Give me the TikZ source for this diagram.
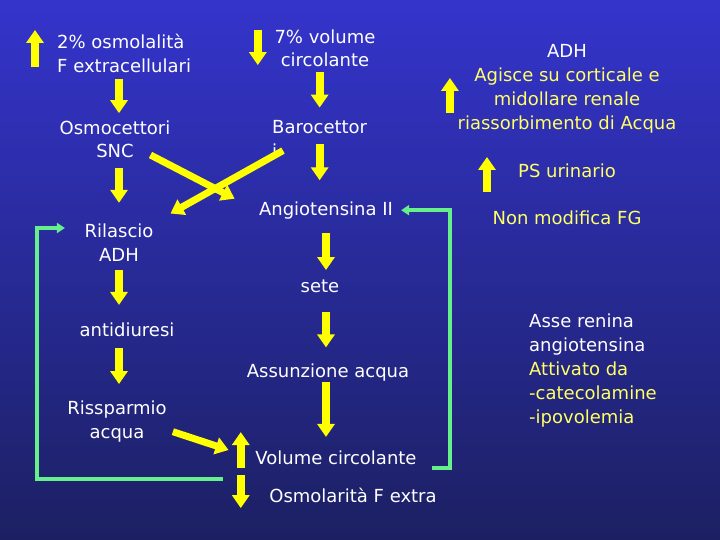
\documentclass[tikz,border=0pt]{standalone}
\usepackage{fontspec}
\setmainfont{DejaVu Sans}
\usetikzlibrary{arrows.meta}
\definecolor{bgtop}{RGB}{52,52,204}
\definecolor{bgbot}{RGB}{28,32,98}
\definecolor{myel}{RGB}{255,255,0}
\definecolor{mtxt}{RGB}{255,255,102}
\definecolor{mgreen}{RGB}{102,240,140}
\tikzset{lbl/.style = {text=white, font=\fontsize{18}{23.5}\selectfont, align=center, inner sep=2pt}}
\tikzset{ylbl/.style = {lbl, text=mtxt}}
\tikzset{yarr/.style = {myel, line width=8pt, -{Triangle[width=17pt, length=13pt]}}}
\tikzset{garr/.style = {mgreen, line width=3.5pt, -{Triangle[width=10pt, length=8pt]}}}

\begin{document}
\begin{tikzpicture}[x=1pt, y=1pt]
  \useasboundingbox (0,0) rectangle (720,540);
  \shade [top color=bgtop, bottom color=bgbot] (0,0) rectangle (720,540);

  \node [lbl, align=left, anchor=west] (fext) at (55,486.5) {2\% osmolalità\\F extracellulari};
  \node [lbl] (vol) at (325,491.9) {7\% volume\\circolante};
  \node [ylbl, font=\fontsize{18}{24}\selectfont] (adh) at (567,451)
    {\textcolor{white}{ADH}\\Agisce su corticale e\\midollare renale\\riassorbimento di Acqua};
  \node [lbl] (osmo) at (115,400.9) {Osmocettori\\SNC};
  \node [lbl, align=left, anchor=west] (baro) at (270,400.9) {Barocettor\\i};
  \node [lbl] (angio) at (326,329.8) {Angiotensina II};
  \node [ylbl] (psur) at (567,369.5) {PS urinario};
  \node [ylbl] (nonmod) at (567,321.9) {Non modifica FG};
  \node [lbl] (ril) at (119,297.4) {Rilascio\\ADH};
  \node [lbl] (sete) at (320,253.3) {sete};
  \node [lbl] (antid) at (127,209.9) {antidiuresi};
  \node [lbl] (assun) at (328,167.7) {Assunzione acqua};
  \node [lbl] (riss) at (117,118.3) {Rissparmio\\acqua};
  \node [lbl] (volc) at (336,81.9) {Volume circolante};
  \node [lbl] (osmx) at (353,44.9) {Osmolarità F extra};
  \node [ylbl, align=left, anchor=west, font=\fontsize{18}{24}\selectfont] (asse) at (527,169.2)
    {\textcolor{white}{Asse renina}\\\textcolor{white}{angiotensina}\\Attivato da\\-catecolamine\\-ipovolemia};

  \draw [yarr] ([xshift=-20pt,yshift=-13.5pt]fext.west) -- ++(0,37);
  \draw [yarr] ([xshift=-14.5pt,yshift=18pt]vol.west) -- ++(0,-35);
  \draw [yarr] ([xshift=-5.5pt,yshift=-24pt]adh.west) -- ++(0,35);
  \draw [yarr] ([xshift=-29pt,yshift=-21.5pt]psur.west) -- ++(0,35);
  \draw [yarr] ([xshift=-12.5pt,yshift=-10pt]volc.west) -- ++(0,36);
  \draw [yarr] ([xshift=-12.5pt,yshift=-17pt]volc.west) -- ++(0,-33);

  \draw [yarr, shorten <=4pt, shorten >=5pt] (fext.south -| ril.south) -- (ril.south |- osmo.north);
  \draw [yarr, shorten <=8pt, shorten >=19pt] (osmo.south -| ril.south) -- (ril.north);
  \draw [yarr, shorten <=7pt, shorten >=16pt] (ril.south) -- (ril.south |- antid.north);
  \draw [yarr, shorten <=9pt, shorten >=15pt] (ril.south |- antid.south) -- (ril.south |- riss.north);

  \draw [yarr, shorten <=3pt, shorten >=11pt] (vol.south -| baro.north) -- (baro.north);
  \draw [yarr, shorten >=19pt] ([yshift=16pt]baro.south) -- (baro.south |- angio.north);
  \draw [yarr, shorten <=12pt, shorten >=8pt] (angio.south) -- (angio.south |- sete.north);
  \draw [yarr, shorten <=17pt, shorten >=14pt] (angio.south |- sete.south) -- (angio.south |- assun.north);
  \draw [yarr, shorten <=-1pt, shorten >=12pt] (angio.south |- assun.south) -- (angio.south |- volc.north);

  \draw [yarr, line width=7pt, shorten >=25pt] ([xshift=-22pt,yshift=5pt]osmo.south east) -- (angio.west);
  \draw [yarr, line width=7pt, shorten >=17pt] ([xshift=13pt,yshift=9pt]baro.south west) -- (ril.north east);
  \draw [yarr, line width=7pt, shorten >=26pt] ([xshift=4pt,yshift=-10pt]riss.east) -- (volc.west);

  \draw [garr, shorten >=6pt] ([xshift=13.5pt,yshift=-10pt]volc.east) -- ++(18,0) |- (angio.east);
  \draw [garr, shorten >=17.5pt] ([xshift=-30.5pt,yshift=-21pt]volc.west) -- ++(-186,0) |- ([yshift=14.6pt]ril.west);
\end{tikzpicture}
\end{document}
